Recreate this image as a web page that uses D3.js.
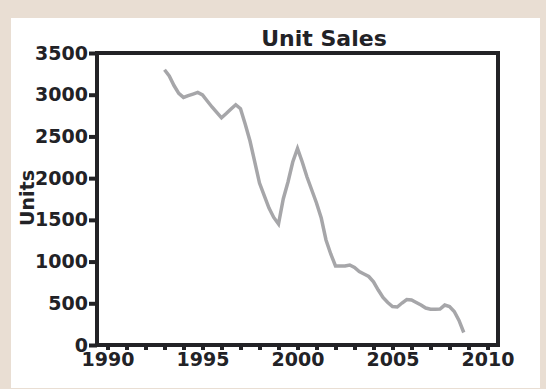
<!DOCTYPE html>
<html>
<head>
<meta charset="utf-8">
<script src="https://cdn.jsdelivr.net/npm/d3@7"></script>
<style>
  html, body { margin: 0; padding: 0; background: #e9ded3; }
  svg { display: block; }
</style>
</head>
<body>
<svg id="chart" width="546" height="389"></svg>
<script>
// ---- data ----
const title = "Unit Sales";
const yLabel = "Units";
const periods = [
  "1993Q1","1993Q2","1993Q3","1993Q4","1994Q1","1994Q2","1994Q3","1994Q4",
  "1995Q1","1995Q2","1995Q3","1995Q4","1996Q1","1996Q2","1996Q3","1996Q4",
  "1997Q1","1997Q2","1997Q3","1997Q4","1998Q1","1998Q2","1998Q3","1998Q4",
  "1999Q1","1999Q2","1999Q3","1999Q4","2000Q1","2000Q2","2000Q3","2000Q4",
  "2001Q1","2001Q2","2001Q3","2001Q4","2002Q1","2002Q2","2002Q3","2002Q4",
  "2003Q1","2003Q2","2003Q3","2003Q4","2004Q1","2004Q2","2004Q3","2004Q4",
  "2005Q1","2005Q2","2005Q3","2005Q4","2006Q1","2006Q2","2006Q3","2006Q4",
  "2007Q1","2007Q2","2007Q3","2007Q4","2008Q1","2008Q2","2008Q3","2008Q4"
];
const values = [
  3300, 3225, 3110, 3017, 2968, 2989, 3008, 3028,
  2998, 2925, 2853, 2788, 2723, 2774, 2828, 2880,
  2833, 2645, 2445, 2196, 1941, 1791, 1641, 1529,
  1450, 1750, 1954, 2193, 2355, 2193, 2014, 1858,
  1702, 1522, 1259, 1091,  947,  947,  947,  959,
   929,  881,  851,  821,  758,  659,  569,  509,
   461,  455,  503,  545,  539,  509,  479,  443,
   428,  428,  431,  479,  461,  402,  294,  150
];
const xTickValues = [1990,1991,1992,1993,1994,1995,1996,1997,1998,1999,2000,
                     2001,2002,2003,2004,2005,2006,2007,2008,2009,2010];
const xLabelValues = [1990, 1995, 2000, 2005, 2010];
const yTickValues = [0, 500, 1000, 1500, 2000, 2500, 3000, 3500];

// ---- layout ----
const W = 546, H = 389;
const dark = "#222226";
const font = "'DejaVu Sans', sans-serif";
const plot = { left: 97, right: 498, top: 53, bottom: 345 };

const svg = d3.select("#chart");
svg.append("rect").attr("width", W).attr("height", H).attr("fill", "#e9ded3");
svg.append("rect").attr("x", 11).attr("y", 18).attr("width", 529).attr("height", 370).attr("fill", "#ffffff");

const toYear = p => +p.slice(0, 4) + (+p.slice(5) - 1) / 4;
const data = periods.map((p, i) => ({ t: toYear(p), v: values[i] }));

const x = d3.scaleLinear().domain([1990, 2010]).range([107.5, 487.5]);
const y = d3.scaleLinear().domain([0, 3500]).range([plot.bottom, plot.top]);

// line
const line = d3.line().x(d => x(d.t)).y(d => y(d.v));
svg.append("path").datum(data)
  .attr("d", line)
  .attr("fill", "none")
  .attr("stroke", "#a6a6a9")
  .attr("stroke-width", 3.5)
  .attr("stroke-linejoin", "miter");

// frame
svg.append("rect")
  .attr("x", plot.left).attr("y", plot.top)
  .attr("width", plot.right - plot.left).attr("height", plot.bottom - plot.top)
  .attr("fill", "none").attr("stroke", dark).attr("stroke-width", 4);

// y axis
const yAxis = svg.append("g").attr("transform", `translate(${plot.left},0)`)
  .call(d3.axisLeft(y).tickValues(yTickValues).tickSize(8).tickPadding(1).tickFormat(d3.format("d")));
yAxis.select(".domain").remove();
yAxis.selectAll(".tick line").attr("stroke", dark).attr("stroke-width", 4);
yAxis.selectAll(".tick text").attr("fill", dark)
  .style("font-family", font).style("font-size", "19px").style("font-weight", "bold");

// x axis
const xAxis = svg.append("g").attr("transform", `translate(0,${plot.bottom})`)
  .call(d3.axisBottom(x).tickValues(xTickValues).tickSize(5).tickPadding(3)
    .tickFormat(d => xLabelValues.includes(d) ? d3.format("d")(d) : ""));
xAxis.select(".domain").remove();
xAxis.selectAll(".tick line").attr("stroke", dark).attr("stroke-width", 4);
xAxis.selectAll(".tick text").attr("fill", dark)
  .style("font-family", font).style("font-size", "19px").style("font-weight", "bold");

// title
svg.append("text").attr("x", 324).attr("y", 46).attr("text-anchor", "middle")
  .attr("fill", dark).style("font-family", font).style("font-size", "22px").style("font-weight", "bold")
  .text(title);

// y label
svg.append("text").attr("transform", "translate(34,198) rotate(-90)")
  .attr("text-anchor", "middle").attr("fill", dark)
  .style("font-family", font).style("font-size", "19px").style("font-weight", "bold")
  .text(yLabel);
</script>
</body>
</html>
